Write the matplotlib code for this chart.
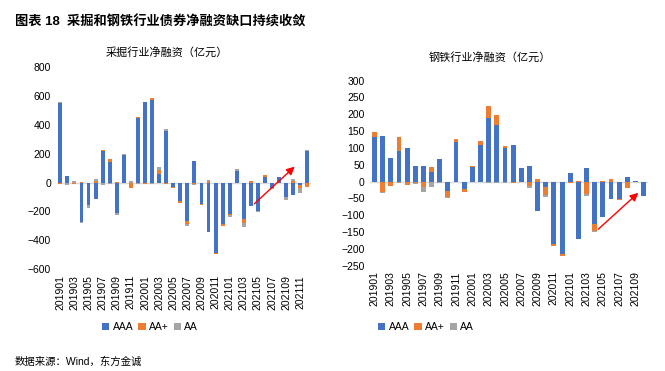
import numpy as np
import matplotlib
matplotlib.use("Agg")
import matplotlib.pyplot as plt

plt.rcParams['font.family'] = ['Liberation Sans', 'Noto Sans CJK SC', 'DejaVu Sans']

# 采掘行业 monthly net financing (亿元), 201901-202112
mining_months = [f"{y}{m:02d}" for y in (2019, 2020, 2021) for m in range(1, 13)]
mining_aaa = [550, 46, 0, -270, -155, -115, 220, 145, -212, 192, 0, 448,
              557, 573, 60, 353, -28, -131, -265, 150, -148, -340, -485, -288,
              -217, 81, -252, -160, -194, 40, -37, 37, -97, -83, -15, 215]
mining_aap = [-8, 0, -10, 5, 0, 10, 5, 20, 5, 0, -35, 5,
              -8, 12, 25, -8, -8, -10, -25, -8, -10, 10, -8, -10,
              -8, -5, -30, 10, 0, 12, 0, 0, 0, 10, -25, -30]
mining_aa = [10, -20, 12, -10, -20, 15, -15, -10, -15, 8, 8, -10,
             0, -10, 20, 15, 0, 0, -8, -10, 0, 5, 0, 0,
             -10, 10, -28, 0, -12, 0, -10, 0, -25, 15, -32, 8]

# 钢铁行业 monthly net financing (亿元), 201901-202110
steel_months = mining_months[:34]
steel_aaa = [131, 136, 71, 91, 100, 47, 47, 29, 68, -28, 118, -21,
             44, 109, 190, 168, 101, 108, 40, 46, -88, -17, -185, -215,
             25, -170, 40, -127, -105, -52, -53, 13, 3, -43]
steel_aap = [15, -30, -14, 40, -10, -5, -15, 15, 0, -17, 8, -9,
             3, 11, 35, 30, 5, -3, 0, -12, 9, -23, -8, -6,
             -3, 3, -38, -20, 3, 7, -3, -20, 0, 0]
steel_aa = [0, -3, 0, -5, 0, -3, -17, -15, -5, -3, 0, 0,
            0, 0, -5, -5, -4, 0, 0, -6, 0, -6, 0, 0,
            0, 0, -6, -3, 0, 0, 0, 0, 0, 0]

series_names = ['AAA', 'AA+', 'AA']
colors = ['#4472C4', '#ED7D31', '#A5A5A5']


def stacked(ax, months, series, width):
    x = np.arange(len(months))
    pos = np.zeros(len(months))
    neg = np.zeros(len(months))
    handles = []
    for vals, c, name in zip(series, colors, series_names):
        vals = np.array(vals, dtype=float)
        bottom = np.where(vals >= 0, pos, neg)
        h = ax.bar(x, vals, width, bottom=bottom, color=c, label=name, zorder=3)
        pos = pos + np.where(vals >= 0, vals, 0)
        neg = neg + np.where(vals < 0, vals, 0)
        handles.append(h)
    ax.axhline(0, color='#D9D9D9', lw=1, zorder=2)
    ax.set_xlim(-0.5, len(months) - 0.5)
    ax.set_xticks(x[::2])
    ax.set_xticklabels(months[::2], rotation=90, fontsize=7.5)
    ax.tick_params(axis='both', length=0, labelsize=7.5, pad=4)
    for s in ax.spines.values():
        s.set_visible(False)
    return handles


fig = plt.figure(figsize=(6.65, 3.71), dpi=100)

ax1 = fig.add_axes([0.0854, 0.274, 0.382, 0.546])
h = stacked(ax1, mining_months, [mining_aaa, mining_aap, mining_aa], 0.55)
ax1.set_ylim(-600, 800)
ax1.set_yticks(range(-600, 801, 200))
ax1.annotate('', xy=(33.5, 123), xytext=(27.2, -160),
             arrowprops=dict(arrowstyle='-|>', color='#FF0000', lw=1, mutation_scale=12))

ax2 = fig.add_axes([0.557, 0.284, 0.417, 0.4987])
stacked(ax2, steel_months, [steel_aaa, steel_aap, steel_aa], 0.6)
ax2.set_ylim(-250, 300)
ax2.set_yticks(range(-250, 301, 50))
ax2.annotate('', xy=(32.6, -28), xytext=(27.2, -147),
             arrowprops=dict(arrowstyle='-|>', color='#FF0000', lw=1, mutation_scale=12))

fig.text(167 / 665, 1 - 52 / 371, '采掘行业净融资（亿元）', ha='center', va='center', fontsize=8)
fig.text(490 / 665, 1 - 57 / 371, '钢铁行业净融资（亿元）', ha='center', va='center', fontsize=8)

leg_kw = dict(ncol=3, frameon=False, fontsize=7.5, handlelength=0.7, handleheight=0.7,
              handletextpad=0.3, columnspacing=0.5, loc='center')
fig.legend(handles=h, labels=series_names, bbox_to_anchor=(150 / 665, 1 - 327 / 371), **leg_kw)
fig.legend(handles=h, labels=series_names, bbox_to_anchor=(426 / 665, 1 - 327 / 371), **leg_kw)

fig.text(15 / 665, 1 - 22 / 371, '图表 18  采掘和钢铁行业债券净融资缺口持续收敛',
         ha='left', va='center', fontsize=9.5, fontweight='bold')
fig.text(15 / 665, 1 - 362 / 371, '数据来源：Wind，东方金诚', ha='left', va='center', fontsize=7.5)

fig.savefig('out.png', dpi=100)
